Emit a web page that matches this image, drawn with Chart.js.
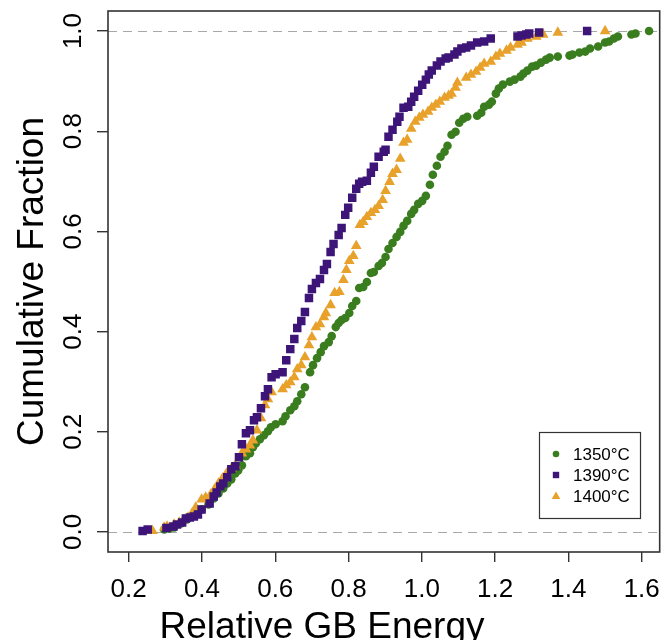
<!DOCTYPE html>
<html>
<head>
<meta charset="utf-8">
<script src="https://cdn.jsdelivr.net/npm/chart.js@4.4.1/dist/chart.umd.min.js"></script>
<style>
  html, body { margin: 0; padding: 0; background: #fff; }
  #wrap { width: 672px; height: 640px; }
</style>
</head>
<body>
<div id="wrap"><canvas id="chart1"></canvas></div>
<script>
const xTicks = [0.2, 0.4, 0.6, 0.8, 1.0, 1.2, 1.4, 1.6];
const yTicks = [0, 0.2, 0.4, 0.6, 0.8, 1.0];
const refLines = [0, 1];
const seriesLabels = ['1350°C', '1390°C', '1400°C'];
const seriesColors = ['#3a7d1f', '#3d1578', '#e8a12a'];

const energy1350 = [0.297, 0.311, 0.324, 0.343, 0.359, 0.373, 0.386, 0.399, 0.418, 0.432, 0.445, 0.458, 0.469, 0.480, 0.491, 0.499, 0.509, 0.520, 0.531, 0.539,
  0.547, 0.558, 0.569, 0.580, 0.588, 0.601, 0.620, 0.628, 0.641, 0.652, 0.660, 0.671, 0.681, 0.695, 0.703, 0.714, 0.724, 0.733, 0.746, 0.754,
  0.765, 0.773, 0.781, 0.791, 0.802, 0.810, 0.821, 0.829, 0.840, 0.850, 0.861, 0.869, 0.882, 0.891, 0.901, 0.909, 0.920, 0.931, 0.941, 0.950,
  0.960, 0.971, 0.979, 0.990, 1.001, 1.011, 1.022, 1.030, 1.041, 1.051, 1.062, 1.070, 1.081, 1.092, 1.102, 1.113, 1.124, 1.151, 1.162, 1.170,
  1.183, 1.191, 1.202, 1.210, 1.221, 1.240, 1.253, 1.269, 1.277, 1.288, 1.301, 1.312, 1.325, 1.339, 1.349, 1.371, 1.403, 1.411, 1.430, 1.446,
  1.459, 1.481, 1.500, 1.511, 1.524, 1.535, 1.572, 1.583, 1.620];
const frac1350 = [0.005, 0.007, 0.009, 0.017, 0.025, 0.031, 0.037, 0.045, 0.055, 0.067, 0.077, 0.087, 0.097, 0.105, 0.117, 0.123, 0.133, 0.151, 0.157, 0.169,
  0.177, 0.185, 0.193, 0.201, 0.209, 0.215, 0.221, 0.231, 0.243, 0.251, 0.261, 0.275, 0.289, 0.319, 0.333, 0.347, 0.359, 0.371, 0.379, 0.391,
  0.409, 0.417, 0.423, 0.427, 0.437, 0.451, 0.461, 0.487, 0.489, 0.499, 0.517, 0.519, 0.531, 0.537, 0.549, 0.565, 0.577, 0.589, 0.599, 0.611,
  0.621, 0.635, 0.643, 0.655, 0.661, 0.671, 0.693, 0.713, 0.731, 0.749, 0.759, 0.771, 0.793, 0.799, 0.817, 0.825, 0.829, 0.831, 0.837, 0.849,
  0.853, 0.859, 0.875, 0.885, 0.893, 0.899, 0.903, 0.909, 0.915, 0.921, 0.929, 0.931, 0.937, 0.943, 0.947, 0.949, 0.951, 0.953, 0.957, 0.959,
  0.965, 0.969, 0.977, 0.979, 0.985, 0.989, 0.993, 0.995, 1.000];

const energy1390 = [0.238, 0.252, 0.303, 0.322, 0.332, 0.346, 0.356, 0.367, 0.378, 0.389, 0.399, 0.421, 0.432, 0.440, 0.450, 0.458, 0.469, 0.480, 0.491, 0.501,
  0.509, 0.520, 0.531, 0.542, 0.550, 0.561, 0.572, 0.580, 0.590, 0.601, 0.620, 0.630, 0.641, 0.652, 0.660, 0.671, 0.681, 0.692, 0.700, 0.711,
  0.722, 0.733, 0.741, 0.751, 0.759, 0.773, 0.781, 0.791, 0.799, 0.810, 0.821, 0.829, 0.837, 0.850, 0.861, 0.869, 0.882, 0.896, 0.901, 0.909,
  0.920, 0.933, 0.939, 0.950, 0.963, 0.971, 0.979, 0.990, 1.001, 1.011, 1.019, 1.027, 1.041, 1.051, 1.065, 1.073, 1.089, 1.097, 1.108, 1.121,
  1.134, 1.151, 1.170, 1.188, 1.261, 1.272, 1.285, 1.293, 1.320, 1.451];
const frac1390 = [0.002, 0.005, 0.008, 0.011, 0.015, 0.019, 0.027, 0.029, 0.031, 0.035, 0.045, 0.057, 0.071, 0.079, 0.091, 0.097, 0.109, 0.125, 0.131, 0.149,
  0.175, 0.197, 0.203, 0.223, 0.229, 0.247, 0.271, 0.285, 0.309, 0.315, 0.319, 0.343, 0.365, 0.385, 0.407, 0.421, 0.439, 0.467, 0.485, 0.497,
  0.505, 0.523, 0.535, 0.559, 0.575, 0.593, 0.607, 0.633, 0.647, 0.667, 0.685, 0.695, 0.699, 0.701, 0.717, 0.729, 0.749, 0.759, 0.763, 0.789,
  0.803, 0.819, 0.829, 0.847, 0.849, 0.859, 0.869, 0.881, 0.893, 0.903, 0.913, 0.921, 0.931, 0.939, 0.945, 0.947, 0.953, 0.959, 0.965, 0.967,
  0.971, 0.977, 0.979, 0.985, 0.989, 0.991, 0.993, 0.995, 0.997, 1.000];

const energy1400 = [0.265, 0.297, 0.305, 0.324, 0.338, 0.351, 0.362, 0.373, 0.383, 0.399, 0.410, 0.424, 0.434, 0.445, 0.456, 0.467, 0.480, 0.491, 0.509, 0.520,
  0.531, 0.539, 0.550, 0.561, 0.572, 0.580, 0.590, 0.620, 0.630, 0.641, 0.652, 0.660, 0.671, 0.681, 0.692, 0.700, 0.711, 0.722, 0.733, 0.738,
  0.751, 0.762, 0.775, 0.786, 0.794, 0.802, 0.813, 0.821, 0.831, 0.840, 0.850, 0.861, 0.872, 0.882, 0.893, 0.901, 0.912, 0.920, 0.931, 0.941,
  0.950, 0.960, 0.971, 0.982, 0.993, 1.003, 1.017, 1.027, 1.038, 1.049, 1.062, 1.073, 1.081, 1.092, 1.097, 1.121, 1.134, 1.148, 1.159, 1.170,
  1.188, 1.202, 1.213, 1.231, 1.242, 1.261, 1.272, 1.288, 1.312, 1.331, 1.371, 1.500];
const frac1400 = [0.002, 0.009, 0.011, 0.015, 0.019, 0.025, 0.029, 0.037, 0.049, 0.065, 0.069, 0.075, 0.085, 0.097, 0.107, 0.117, 0.127, 0.133, 0.157, 0.165,
  0.173, 0.183, 0.203, 0.227, 0.253, 0.265, 0.279, 0.285, 0.293, 0.299, 0.309, 0.325, 0.333, 0.349, 0.373, 0.389, 0.409, 0.415, 0.429, 0.437,
  0.453, 0.477, 0.479, 0.503, 0.523, 0.541, 0.551, 0.571, 0.613, 0.619, 0.629, 0.637, 0.643, 0.651, 0.663, 0.681, 0.699, 0.715, 0.723, 0.745,
  0.777, 0.783, 0.805, 0.819, 0.827, 0.833, 0.839, 0.847, 0.853, 0.859, 0.867, 0.871, 0.875, 0.887, 0.897, 0.907, 0.913, 0.919, 0.927, 0.935,
  0.939, 0.949, 0.955, 0.961, 0.967, 0.973, 0.977, 0.985, 0.989, 0.993, 0.997, 1.000];

function toPoints(xs, ys) {
  return xs.map((x, i) => ({ x: x, y: ys[i] }));
}

const FONT = '"Liberation Sans", Arial, sans-serif';

// box, dashed reference lines, rotated y labels, titles and legend (R style)
const frame = {
  id: 'frame',
  beforeDatasetsDraw(chart) {
    const { ctx, chartArea: a, scales } = chart;
    ctx.save();
    ctx.strokeStyle = '#a8a8a8';
    ctx.lineWidth = 1.2;
    ctx.setLineDash([9, 6]);
    refLines.forEach(v => {
      const y = Math.round(scales.y.getPixelForValue(v)) + 0.5;
      ctx.beginPath();
      ctx.moveTo(a.left, y);
      ctx.lineTo(a.right, y);
      ctx.stroke();
    });
    ctx.restore();
  },
  afterDraw(chart) {
    const { ctx, chartArea: a, scales } = chart;
    ctx.save();
    ctx.strokeStyle = '#333';
    ctx.lineWidth = 1.6;
    ctx.strokeRect(a.left, a.top, a.right - a.left, a.bottom - a.top);

    ctx.fillStyle = '#000';
    ctx.font = '26px ' + FONT;
    ctx.textAlign = 'center';
    ctx.textBaseline = 'alphabetic';
    yTicks.forEach(v => {
      const y = scales.y.getPixelForValue(v);
      ctx.save();
      ctx.translate(81, y);
      ctx.rotate(-Math.PI / 2);
      ctx.fillText(v.toFixed(1), 0, 0);
      ctx.restore();
    });

    ctx.font = '37px ' + FONT;
    ctx.save();
    ctx.translate(43, (a.top + a.bottom) / 2);
    ctx.rotate(-Math.PI / 2);
    ctx.fillText('Cumulative Fraction', 0, 0);
    ctx.restore();
    ctx.fillText('Relative GB Energy', 322, 638);

    // legend
    ctx.lineWidth = 1.2;
    ctx.strokeStyle = '#333';
    ctx.strokeRect(539.5, 432.5, 101, 86);
    ctx.font = '17px ' + FONT;
    ctx.textAlign = 'left';
    ctx.textBaseline = 'middle';
    const styles = ['circle', 'rect', 'triangle'];
    seriesLabels.forEach((lab, i) => {
      const y = 454 + i * 21, x = 556;
      ctx.fillStyle = seriesColors[i];
      ctx.beginPath();
      if (styles[i] === 'circle') ctx.arc(x, y, 3.3, 0, Math.PI * 2);
      else if (styles[i] === 'rect') ctx.rect(x - 3.2, y - 3.2, 6.4, 6.4);
      else { ctx.moveTo(x, y - 4.5); ctx.lineTo(x + 4.3, y + 3); ctx.lineTo(x - 4.3, y + 3); ctx.closePath(); }
      ctx.fill();
      ctx.fillStyle = '#000';
      ctx.fillText(lab, 573, y + 1);
    });
    ctx.restore();
  }
};

function renderChart() {
  const ctx1 = document.getElementById('chart1');

  new Chart(ctx1, {
    type: 'scatter',
    data: {
      datasets: [{
        label: seriesLabels[0],
        data: toPoints(energy1350, frac1350),
        pointStyle: 'circle',
        pointRadius: 4.3,
        backgroundColor: seriesColors[0],
        pointBorderWidth: 0,
        order: 2
      }, {
        label: seriesLabels[1],
        data: toPoints(energy1390, frac1390),
        pointStyle: 'rect',
        pointRadius: 6,
        backgroundColor: seriesColors[1],
        pointBorderWidth: 0,
        order: 0
      }, {
        label: seriesLabels[2],
        data: toPoints(energy1400, frac1400),
        pointStyle: 'triangle',
        pointRadius: 6.2,
        backgroundColor: seriesColors[2],
        pointBorderWidth: 0,
        order: 1
      }]
    },
    options: {
      responsive: true,
      maintainAspectRatio: false,
      animation: false,
      events: [],
      layout: { padding: { left: 0, top: 11, right: 3, bottom: 0 } },
      plugins: {
        legend: { display: false },
        tooltip: { enabled: false }
      },
      scales: {
        x: {
          type: 'linear',
          min: 0.1436,
          max: 1.649,
          afterBuildTicks: s => { s.ticks = xTicks.map(v => ({ value: v })); },
          afterFit: s => { s.height = 88; },
          border: { display: false },
          grid: { drawOnChartArea: false, drawTicks: true, tickLength: 10, color: '#333', lineWidth: 1.4 },
          ticks: {
            color: '#000',
            font: { family: FONT, size: 26 },
            padding: 12,
            maxRotation: 0,
            callback: v => v.toFixed(1)
          }
        },
        y: {
          type: 'linear',
          min: -0.04,
          max: 1.04,
          afterBuildTicks: s => { s.ticks = yTicks.map(v => ({ value: v })); },
          afterFit: s => { s.width = 108; },
          border: { display: false },
          grid: { drawOnChartArea: false, drawTicks: true, tickLength: 11, color: '#333', lineWidth: 1.4 },
          ticks: { display: false }
        }
      }
    },
    plugins: [frame]
  });
}
renderChart();
</script>
</body>
</html>
